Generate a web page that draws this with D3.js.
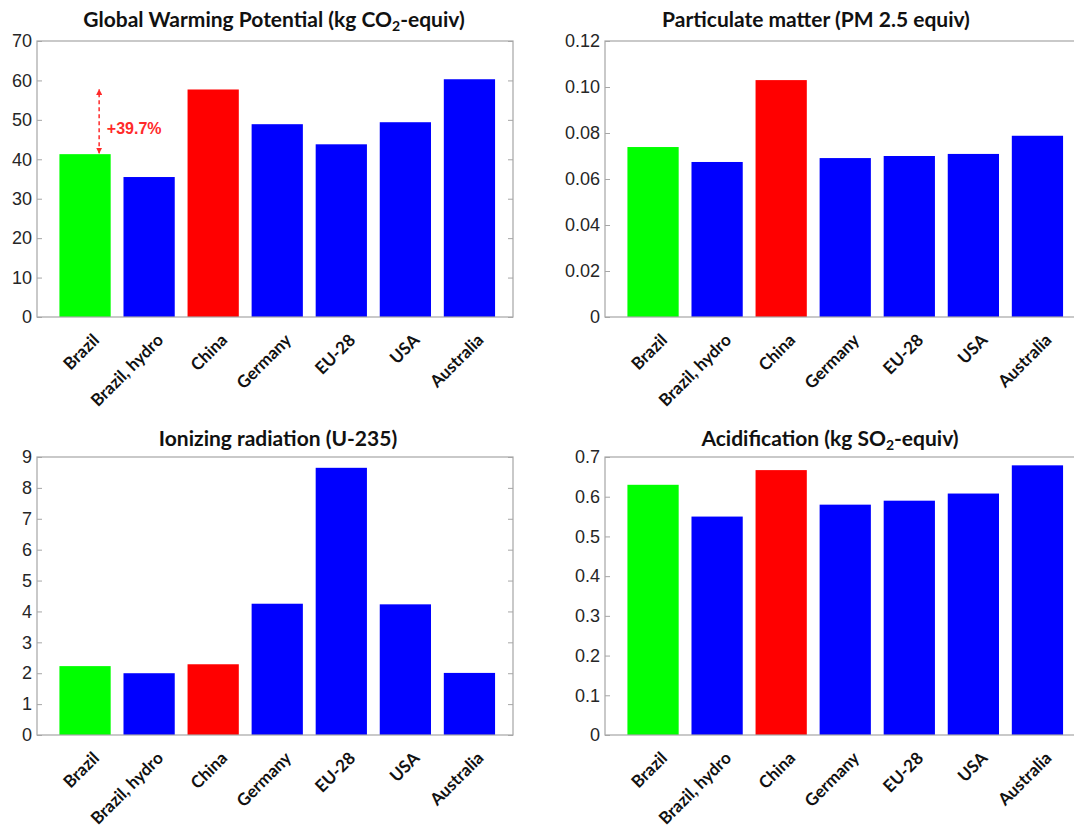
<!DOCTYPE html>
<html>
<head>
<meta charset="utf-8">
<script src="https://d3js.org/d3.v7.min.js"></script>
<style>
    body { margin: 0; background: #fff; }
    .tickLabel { font-family: "Liberation Sans", Arial, sans-serif; font-size: 18px; fill: #262626; }
    .title { font-family: Lato, "Open Sans", sans-serif; font-weight: bold; font-size: 21px; fill: #111; }
    .catLabel { font-family: Lato, "Open Sans", sans-serif; font-weight: bold; font-size: 17px; fill: #111; }
    .note { font-family: "Liberation Sans", Arial, sans-serif; font-weight: bold; font-size: 16px; fill: #ff2a2a; }
</style>
</head>
<body>
<script>
//categories shared by all four panels
var countries = ["Brazil", "Brazil, hydro", "China", "Germany", "EU-28", "USA", "Australia"];

//values
var gwpValues = [41.3, 35.5, 57.7, 48.9, 43.8, 49.4, 60.3];
var pmValues = [0.0739, 0.0674, 0.103, 0.0691, 0.0700, 0.0709, 0.0788];
var ionValues = [2.23, 2.0, 2.29, 4.25, 8.65, 4.23, 2.01];
var acidValues = [0.63, 0.55, 0.667, 0.58, 0.59, 0.608, 0.679];

//y tick values
var gwpTicks = [0, 10, 20, 30, 40, 50, 60, 70];
var pmTicks = [0, 0.02, 0.04, 0.06, 0.08, 0.10, 0.12];
var ionTicks = [0, 1, 2, 3, 4, 5, 6, 7, 8, 9];
var acidTicks = [0, 0.1, 0.2, 0.3, 0.4, 0.5, 0.6, 0.7];

//annotation on the first panel: Brazil vs China
var gwpNote = "+39.7%";

window.onload = function(){

    var w = 1074, h = 835;
    var svg = d3.select("body")
        .append("svg")
        .attr("width", w)
        .attr("height", h);

    //arrow head used by the dashed annotation
    svg.append("defs").append("marker")
        .attr("id", "arrow")
        .attr("viewBox", "0 0 10 10")
        .attr("refX", 9)
        .attr("refY", 5)
        .attr("markerWidth", 4)
        .attr("markerHeight", 4)
        .attr("orient", "auto-start-reverse")
        .append("path")
        .attr("d", "M0,0 L10,5 L0,10 z")
        .style("fill", "#ff2a2a");

    //bar fill depends on the country
    function barColor(name){
        if (name == "Brazil") return "#00ff00";
        if (name == "China") return "#ff0000";
        return "#0000ff";
    }

    var panels = [
        { values: gwpValues, ticks: gwpTicks, max: 70, fmt: d3.format("d"),
          left: 37, top: 41, bottom: 317,
          title: ["Global Warming Potential (kg CO", "2", "-equiv)"], titleX: 274, titleY: 27 },
        { values: pmValues, ticks: pmTicks, max: 0.12, fmt: function(d){ return d == 0 ? "0" : d3.format(".2f")(d); },
          left: 605, top: 41, bottom: 317,
          title: ["Particulate matter (PM 2.5 equiv)"], titleX: 816, titleY: 27 },
        { values: ionValues, ticks: ionTicks, max: 9, fmt: d3.format("d"),
          left: 37, top: 457, bottom: 735,
          title: ["Ionizing radiation (U-235)"], titleX: 278, titleY: 446 },
        { values: acidValues, ticks: acidTicks, max: 0.7, fmt: function(d){ return d == 0 ? "0" : d3.format(".1f")(d); },
          left: 605, top: 457, bottom: 735,
          title: ["Acidification (kg SO", "2", "-equiv)"], titleX: 830, titleY: 446 }
    ];

    var plotW = 476;

    panels.forEach(function(p, k){
        var g = svg.append("g");

        //x runs on bar positions 1..7 like the original plot
        var x = d3.scaleLinear()
            .domain([0.25, 7.68])
            .range([p.left, p.left + plotW]);

        var y = d3.scaleLinear()
            .domain([0, p.max])
            .range([p.bottom, p.top]);

        //bars take 0.8 of the spacing
        var barW = x(1.8) - x(1);

        //bars
        g.selectAll(".bar")
            .data(p.values)
            .enter()
            .append("rect")
            .attr("class", "bar")
            .attr("x", function(d, i){ return x(i + 1) - barW / 2; })
            .attr("y", function(d){ return y(d); })
            .attr("width", barW)
            .attr("height", function(d){ return y(0) - y(d); })
            .style("fill", function(d, i){ return barColor(countries[i]); });

        //box around the plot
        g.append("rect")
            .attr("x", p.left)
            .attr("y", p.top)
            .attr("width", plotW)
            .attr("height", p.bottom - p.top)
            .style("fill", "none")
            .style("stroke", "#a6a6a6")
            .style("stroke-width", 1.2);

        //left axis with inward ticks
        var yAxis = d3.axisLeft(y)
            .tickValues(p.ticks)
            .tickFormat(p.fmt)
            .tickSizeInner(-5)
            .tickSizeOuter(0)
            .tickPadding(5);

        var ax = g.append("g")
            .attr("transform", "translate(" + p.left + ",0)")
            .call(yAxis);
        ax.select(".domain").remove();
        ax.selectAll("line").style("stroke", "#a6a6a6");
        ax.selectAll("text").attr("class", "tickLabel");

        //mirrored ticks on the right edge
        var rAxis = d3.axisRight(y)
            .tickValues(p.ticks)
            .tickFormat("")
            .tickSizeInner(-5)
            .tickSizeOuter(0);

        var rax = g.append("g")
            .attr("transform", "translate(" + (p.left + plotW) + ",0)")
            .call(rAxis);
        rax.select(".domain").remove();
        rax.selectAll("line").style("stroke", "#a6a6a6");

        //rotated country names
        g.selectAll(".catLabel")
            .data(countries)
            .enter()
            .append("text")
            .attr("class", "catLabel")
            .attr("text-anchor", "end")
            .attr("transform", function(d, i){
                return "translate(" + (x(i + 1) + 11) + "," + (p.bottom + 20) + ") rotate(-45)";
            })
            .attr("dy", "0.35em")
            .text(function(d){ return d; });

        //title, with subscript where needed
        var t = g.append("text")
            .attr("class", "title")
            .attr("text-anchor", "middle")
            .attr("x", p.titleX)
            .attr("y", p.titleY);
        t.append("tspan").text(p.title[0]);
        if (p.title.length > 1){
            t.append("tspan").attr("dy", 4).style("font-size", "14px").text(p.title[1]);
            t.append("tspan").attr("dy", -4).text(p.title[2]);
        }

        //dashed arrow between Brazil and China on the first panel
        if (k == 0){
            var ax1 = x(1.22);
            g.append("line")
                .attr("x1", ax1)
                .attr("x2", ax1)
                .attr("y1", y(gwpValues[0]) - 1)
                .attr("y2", y(gwpValues[2]))
                .style("stroke", "#ff2a2a")
                .style("stroke-width", 1.5)
                .style("stroke-dasharray", "4,3")
                .attr("marker-start", "url(#arrow)")
                .attr("marker-end", "url(#arrow)");

            g.append("text")
                .attr("class", "note")
                .attr("x", x(1.34))
                .attr("y", y(46.5))
                .text(gwpNote);
        }
    });
};
</script>
</body>
</html>
